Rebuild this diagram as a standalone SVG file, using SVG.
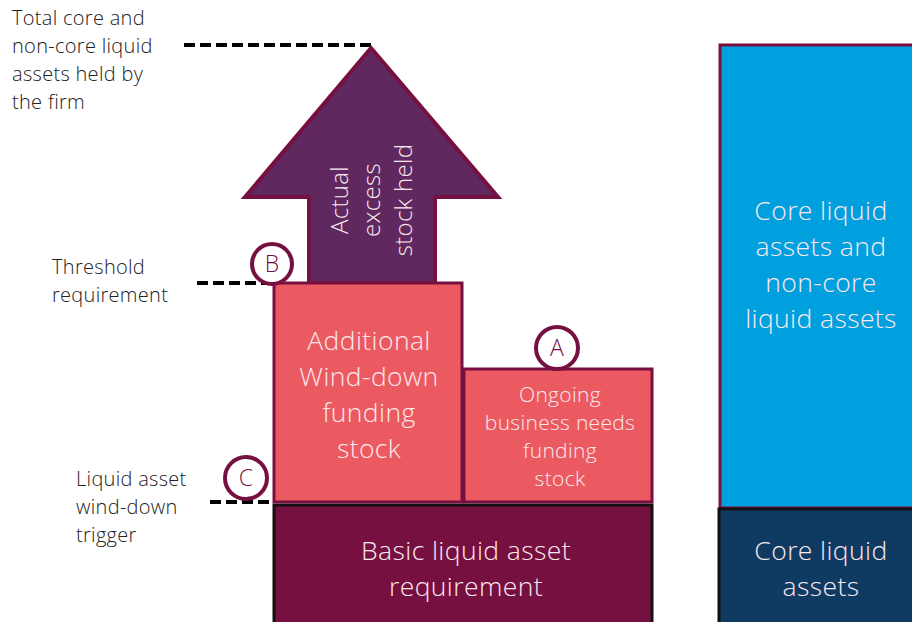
<svg xmlns="http://www.w3.org/2000/svg" width="912" height="622" viewBox="0 0 912 622">
<style>
.lbl{font-family:"Open Sans","Liberation Sans",sans-serif;font-weight:300;font-size:20px;letter-spacing:0.3px;fill:#222}
.wt{font-family:"Open Sans","Liberation Sans",sans-serif;font-weight:300;fill:#fbe8ee;text-anchor:middle}
.big{font-size:26.5px;letter-spacing:0.4px}
.mid{font-size:21px;letter-spacing:0.3px}
.dash{stroke:#000;stroke-width:4;stroke-dasharray:11 5;fill:none}
.circ{fill:#fff;stroke:#761040;stroke-width:4}
.letter{font-family:"Open Sans","Liberation Sans",sans-serif;font-weight:300;font-size:23px;fill:#761040;text-anchor:middle}
</style>
<rect width="912" height="622" fill="#fff"/>
<g id="connectors">
<line class="dash" x1="184" y1="45" x2="372" y2="45"/>
<line class="dash" x1="197" y1="283" x2="275" y2="283"/>
<line class="dash" x1="210" y1="502" x2="273" y2="502"/>
</g>
<g id="label-total">
<text class="lbl" x="12" y="25">Total core and</text>
<text class="lbl" x="12" y="53">non-core liquid</text>
<text class="lbl" x="12" y="81">assets held by</text>
<text class="lbl" x="12" y="109">the firm</text>
</g>
<g id="label-threshold">
<text class="lbl" x="52" y="274">Threshold</text>
<text class="lbl" x="52" y="302">requirement</text>
</g>
<g id="label-trigger">
<text class="lbl" x="76" y="486">Liquid asset</text>
<text class="lbl" x="76" y="514">wind-down</text>
<text class="lbl" x="76" y="542">trigger</text>
</g>
<g id="arrow">
<polygon points="371,48 498,197 435,197 435,283 309,283 309,197 245,197" fill="#5f2960" stroke="#761040" stroke-width="4" stroke-linejoin="miter"/>
<g font-size="24" letter-spacing="0.3">
<text class="wt" transform="translate(348,200) rotate(-90)">Actual</text>
<text class="wt" transform="translate(380,200) rotate(-90)">excess</text>
<text class="wt" transform="translate(412,200) rotate(-90)">stock held</text>
</g>
</g>
<g id="basic">
<rect x="274" y="505" width="378" height="130" fill="#761040" stroke="#111" stroke-width="3"/>
<text class="wt big" x="466" y="560">Basic liquid asset</text>
<text class="wt big" x="466" y="596">requirement</text>
</g>
<g id="additional">
<rect x="274" y="283" width="188" height="219" fill="#eb5a60" stroke="#761040" stroke-width="3"/>
<text class="wt big" x="369" y="350">Additional</text>
<text class="wt big" x="369" y="386">Wind-down</text>
<text class="wt big" x="369" y="422">funding</text>
<text class="wt big" x="369" y="458">stock</text>
</g>
<g id="ongoing">
<rect x="464" y="369" width="188" height="133" fill="#eb5a60" stroke="#761040" stroke-width="3"/>
<text class="wt mid" x="560" y="402">Ongoing</text>
<text class="wt mid" x="560" y="430">business needs</text>
<text class="wt mid" x="560" y="458">funding</text>
<text class="wt mid" x="560" y="486">stock</text>
</g>
<g id="circle-B">
<circle class="circ" cx="272" cy="264" r="20"/>
<text class="letter" x="272" y="272">B</text>
</g>
<g id="circle-A">
<circle class="circ" cx="557" cy="348" r="21"/>
<text class="letter" x="557" y="356">A</text>
</g>
<g id="circle-C">
<circle class="circ" cx="246" cy="478" r="21"/>
<text class="letter" x="246" y="486">C</text>
</g>
<g id="core-noncore">
<rect x="720" y="45" width="200" height="463" fill="#00a0de" stroke="#761040" stroke-width="3"/>
<text class="wt big" x="821" y="220">Core liquid</text>
<text class="wt big" x="821" y="256">assets and</text>
<text class="wt big" x="821" y="292">non-core</text>
<text class="wt big" x="821" y="328">liquid assets</text>
</g>
<g id="core">
<rect x="719" y="509" width="200" height="130" fill="#0f3a62" stroke="#111" stroke-width="3"/>
<text class="wt big" x="821" y="560">Core liquid</text>
<text class="wt big" x="821" y="596">assets</text>
</g>
</svg>
